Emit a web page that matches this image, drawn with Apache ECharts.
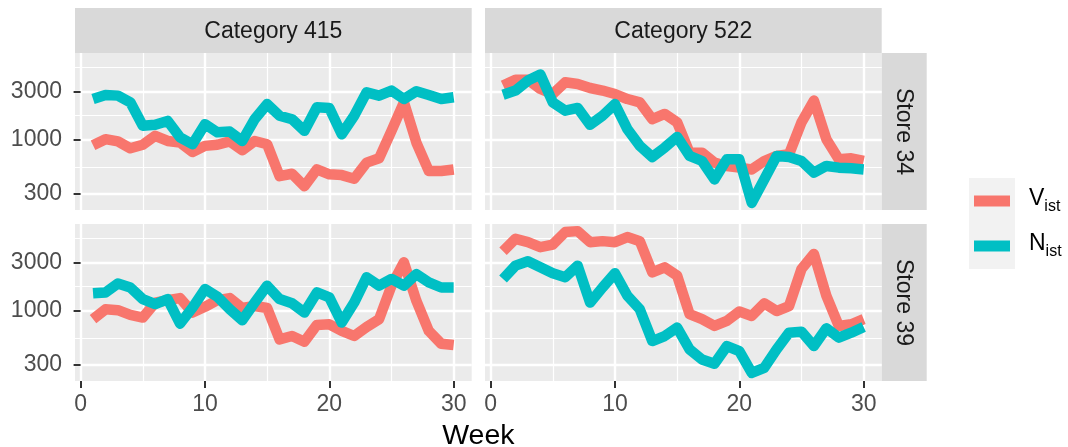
<!DOCTYPE html>
<html>
<head>
<meta charset="utf-8">
<script src="https://cdn.jsdelivr.net/npm/echarts@6/dist/echarts.min.js"></script>
<style>
  html, body { margin: 0; padding: 0; background: #ffffff; }
  #chart { width: 1068px; height: 447px; }
</style>
</head>
<body>
<div id="chart"></div>
<script>
// Weekly values per facet, log-scaled y
const weeks = [1, 2, 3, 4, 5, 6, 7, 8, 9, 10, 11, 12, 13, 14, 15,
               16, 17, 18, 19, 20, 21, 22, 23, 24, 25, 26, 27, 28, 29, 30];
const facetCols = ['Category 415', 'Category 522'];
const facetRows = ['Store 34', 'Store 39'];
const seriesNames = ['V_ist', 'N_ist'];
const xTicks = [0, 10, 20, 30];
const xMinorTicks = [5, 15, 25];
const yTicks = [300, 1000, 3000];
const yMinorTicks = [548, 1732, 5196];

// Category 415 / Store 34
const v415s34 = [890, 1020, 970, 830, 900, 1100, 980, 945, 765, 877, 900, 970, 795, 980, 910,
                 444, 468, 354, 516, 462, 454, 418, 601, 663, 1230, 2340, 945, 498, 498, 516];
const n415s34 = [2520, 2760, 2720, 2340, 1380, 1410, 1540, 1060, 910, 1430, 1190, 1210, 980, 1600, 2250,
                 1730, 1600, 1230, 2090, 2060, 1140, 1730, 2930, 2720, 3050, 2520, 3000, 2760, 2520, 2620];
// Category 522 / Store 34
const v522s34 = [3410, 3880, 3880, 3160, 2820, 3680, 3540, 3230, 3050, 2820, 2520, 2340, 1600, 1800, 1490,
                 753, 753, 601, 558, 537, 516, 624, 699, 726, 1490, 2430, 1020, 648, 663, 624];
const n522s34 = [2780, 3050, 3820, 4380, 2340, 1940, 2060, 1410, 1730, 2250, 1280, 877, 683, 844, 1074,
                 699, 624, 412, 648, 648, 243, 412, 699, 683, 624, 479, 558, 537, 529, 516];
// Category 415 / Store 39
const v415s39 = [832, 1040, 1020, 917, 863, 1210, 1280, 1340, 967, 1100, 1280, 1340, 1070, 1120, 1070,
                 529, 570, 501, 731, 742, 639, 570, 699, 832, 1770, 3000, 1260, 639, 479, 465];
const n415s39 = [1490, 1520, 1860, 1700, 1310, 1170, 1310, 753, 1080, 1640, 1380, 1040, 813, 1210, 1770,
                 1310, 1190, 967, 1520, 1360, 771, 1210, 2140, 1770, 2060, 1770, 2300, 1910, 1700, 1700];
// Category 522 / Store 39
const v522s39 = [3850, 5090, 4720, 4210, 4470, 5920, 6050, 4720, 4830, 4720, 5290, 4830, 2390, 2680, 2220,
                 931, 832, 715, 801, 990, 896, 1190, 1000, 1120, 2580, 3620, 1410, 715, 742, 832];
const n522s39 = [2060, 2780, 3070, 2680, 2340, 2140, 2780, 1210, 1700, 2340, 1410, 1040, 509, 570, 689,
                 422, 336, 305, 454, 405, 248, 278, 422, 614, 629, 454, 678, 549, 614, 699];

const panels = [
  { col: 0, row: 0, v: v415s34, n: n415s34 },
  { col: 1, row: 0, v: v522s34, n: n522s34 },
  { col: 0, row: 1, v: v415s39, n: n415s39 },
  { col: 1, row: 1, v: v522s39, n: n522s39 }
];

const FONT = '"Liberation Sans", Arial, Helvetica, sans-serif';
const COLORS = { V_ist: '#F8766D', N_ist: '#00BFC4' };
const PANEL_L = [75, 485];
const PANEL_T = [53, 224];
const PANEL_W = 396.7;
const PANEL_H = 157;
const STRIP = 45;

// Shared scales with 5% padding (log space for y)
const allVals = panels.flatMap(p => p.v.concat(p.n));
const lo = Math.log10(Math.min(...allVals));
const hi = Math.log10(Math.max(...allVals));
const yPad = (hi - lo) * 0.05;
const yMin = Math.pow(10, lo - yPad);
const yMax = Math.pow(10, hi + yPad);
const xSpan = weeks[weeks.length - 1] - weeks[0];
const xMin = weeks[0] - xSpan * 0.05;
const xMax = weeks[weeks.length - 1] + xSpan * 0.05;

const grid = [], xAxis = [], yAxis = [], series = [];
const minorX = [], minorY = [];

panels.forEach((p, i) => {
  grid.push({
    left: PANEL_L[p.col], top: PANEL_T[p.row], width: PANEL_W, height: PANEL_H,
    show: true, backgroundColor: '#EBEBEB', borderWidth: 0, containLabel: false
  });
  const bottomRow = p.row === 1;
  const leftCol = p.col === 0;
  xAxis.push({
    type: 'value', gridIndex: i, min: xMin, max: xMax, position: 'bottom',
    axisLine: { show: false },
    axisTick: { show: bottomRow, customValues: xTicks, length: 7,
                lineStyle: { color: '#333333', width: 2 } },
    axisLabel: { show: bottomRow, customValues: xTicks, margin: 12,
                 fontSize: 23, fontFamily: FONT, color: '#4D4D4D' },
    splitLine: { show: true, lineStyle: { color: '#FFFFFF', width: 2.4 } }
  });
  minorX.push({
    type: 'value', gridIndex: i, min: xMin, max: xMax, position: 'top',
    axisLine: { show: false },
    axisTick: { show: false, customValues: xMinorTicks },
    axisLabel: { show: false },
    splitLine: { show: true, lineStyle: { color: '#FFFFFF', width: 1.2 } }
  });
  yAxis.push({
    type: 'log', logBase: 10, gridIndex: i, min: yMin, max: yMax, position: 'left',
    axisLine: { show: false },
    axisTick: { show: leftCol, customValues: yTicks, length: 7,
                lineStyle: { color: '#333333', width: 2 } },
    axisLabel: { show: leftCol, customValues: yTicks, margin: 13,
                 fontSize: 23, fontFamily: FONT, color: '#4D4D4D',
                 formatter: v => String(Math.round(v)) },
    splitLine: { show: true, lineStyle: { color: '#FFFFFF', width: 2.4 } }
  });
  minorY.push({
    type: 'log', logBase: 10, gridIndex: i, min: yMin, max: yMax, position: 'right',
    axisLine: { show: false },
    axisTick: { show: false, customValues: yMinorTicks },
    axisLabel: { show: false },
    splitLine: { show: true, lineStyle: { color: '#FFFFFF', width: 1.2 } }
  });
  [['V_ist', p.v], ['N_ist', p.n]].forEach(([name, vals], k) => {
    series.push({
      type: 'line', name: name, xAxisIndex: i, yAxisIndex: i,
      data: weeks.map((w, j) => [w, vals[j]]),
      showSymbol: false, symbol: 'none', silent: true, z: 2 + k,
      lineStyle: { width: 10.5, color: COLORS[name], join: 'round', cap: 'butt' },
      itemStyle: { color: COLORS[name] }
    });
  });
});

// Facet strips, legend key backdrop and axis title
const graphics = [];
facetCols.forEach((label, c) => {
  graphics.push({ type: 'rect', silent: true,
    shape: { x: PANEL_L[c], y: PANEL_T[0] - STRIP, width: PANEL_W, height: STRIP },
    style: { fill: '#D9D9D9' } });
  graphics.push({ type: 'text', silent: true,
    x: PANEL_L[c] + PANEL_W / 2, y: PANEL_T[0] - STRIP / 2 + 1,
    style: { text: label, fill: '#1A1A1A', font: '23px ' + FONT, align: 'center', verticalAlign: 'middle' } });
});
facetRows.forEach((label, r) => {
  const sx = PANEL_L[1] + PANEL_W;
  graphics.push({ type: 'rect', silent: true,
    shape: { x: sx, y: PANEL_T[r], width: STRIP, height: PANEL_H },
    style: { fill: '#D9D9D9' } });
  graphics.push({ type: 'text', silent: true,
    x: sx + STRIP / 2 - 1, y: PANEL_T[r] + PANEL_H / 2, rotation: -Math.PI / 2,
    style: { text: label, fill: '#1A1A1A', font: '23px ' + FONT, align: 'center', verticalAlign: 'middle' } });
});
graphics.push({ type: 'rect', silent: true, z: -1,
  shape: { x: 969, y: 178, width: 46, height: 91 }, style: { fill: '#F2F2F2' } });
graphics.push({ type: 'text', silent: true,
  x: (PANEL_L[0] + PANEL_L[1] + PANEL_W) / 2, y: 436,
  style: { text: 'Week', fill: '#000000', font: '28.5px ' + FONT, align: 'center', verticalAlign: 'middle' } });

const option = {
  animation: false,
  backgroundColor: '#FFFFFF',
  grid: grid,
  xAxis: xAxis.concat(minorX),
  yAxis: yAxis.concat(minorY),
  legend: {
    data: seriesNames, orient: 'vertical', left: 974, top: 187, padding: 0,
    icon: 'rect', itemWidth: 36, itemHeight: 11, itemGap: 17, selectedMode: false,
    formatter: name => {
      const parts = name.split('_');
      return '{m|' + parts[0] + '}{s|' + parts[1] + '}';
    },
    textStyle: {
      padding: [0, 0, 0, 14],
      rich: {
        m: { fontSize: 23, fontFamily: FONT, color: '#000000', lineHeight: 28, verticalAlign: 'top' },
        s: { fontSize: 16, fontFamily: FONT, color: '#000000', lineHeight: 16, verticalAlign: 'bottom' }
      }
    }
  },
  graphic: graphics,
  series: series
};

const chart = echarts.init(document.getElementById('chart'), null, { renderer: 'canvas' });
chart.setOption(option);
</script>
</body>
</html>
